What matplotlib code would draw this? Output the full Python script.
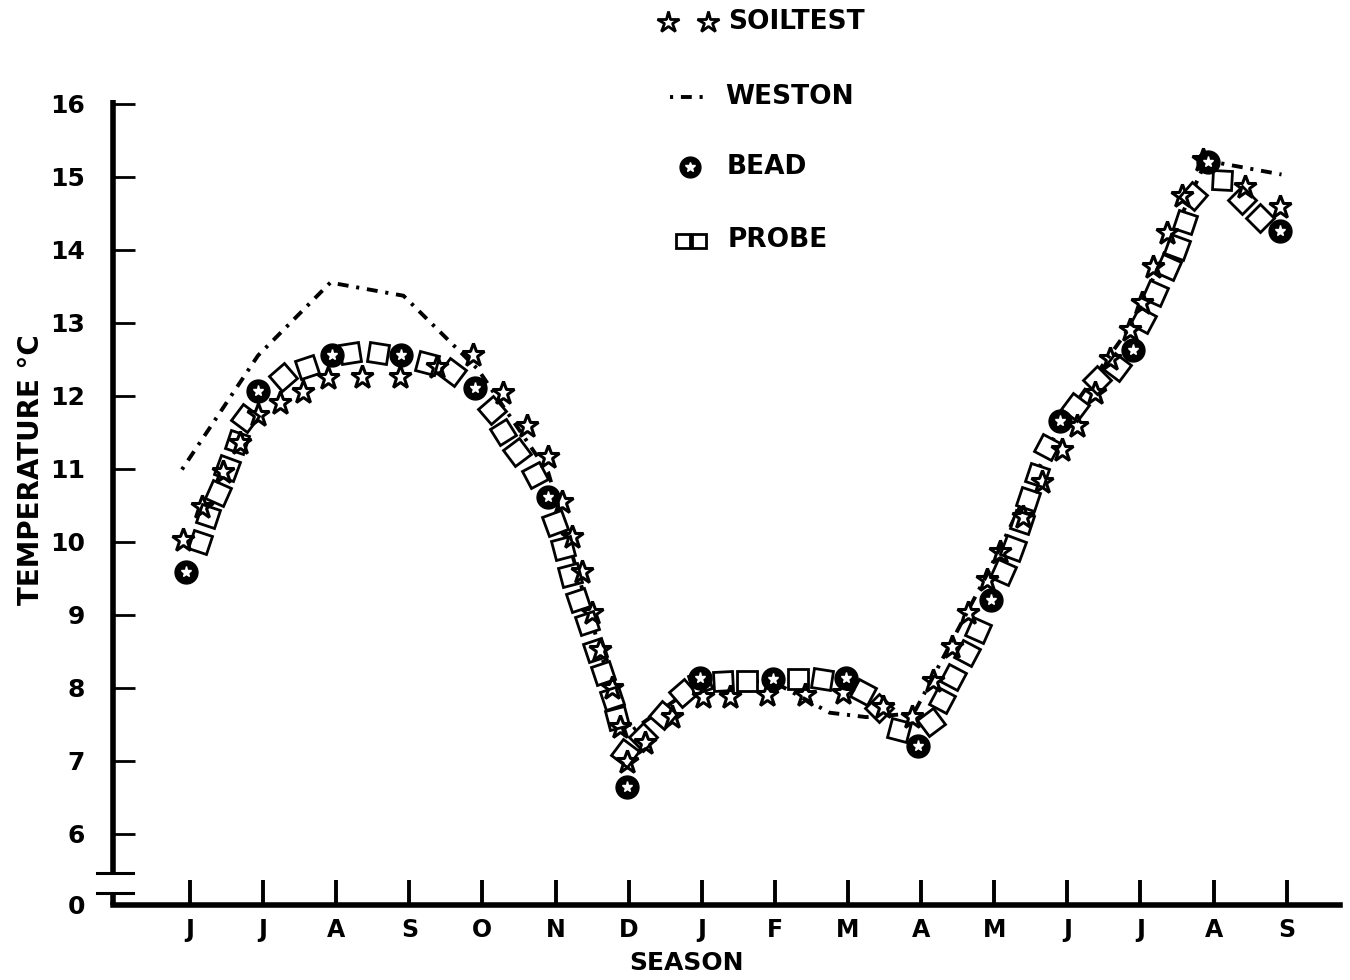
import numpy as np
import matplotlib
matplotlib.use('Agg')
from matplotlib import pyplot as plt
from matplotlib.lines import Line2D
from matplotlib.markers import MarkerStyle
from matplotlib.transforms import Affine2D, blended_transform_factory

# month axis: 0 = first J (June) ... 15 = last S
MONTHS = ['J', 'J', 'A', 'S', 'O', 'N', 'D', 'J', 'F', 'M', 'A', 'M', 'J', 'J', 'A', 'S']
TEMP_TICKS = [6, 7, 8, 9, 10, 11, 12, 13, 14, 15, 16]

soil_t = [-0.09, 0.16, 0.45, 0.68, 0.93, 1.23, 1.55, 1.89, 2.35, 2.87,
          3.38, 3.87, 4.28, 4.61, 4.90, 5.09, 5.23, 5.36, 5.50, 5.61,
          5.77, 5.88, 5.98, 6.22, 6.59, 7.02, 7.39, 7.89, 8.41, 8.93,
          9.48, 9.88, 10.16, 10.42, 10.64, 10.90, 11.08, 11.40, 11.66, 11.93,
          12.13, 12.38, 12.58, 12.86, 13.02, 13.17, 13.37, 13.57, 13.85, 14.43,
          14.91]
soil_temp = [10.03, 10.48, 10.95, 11.36, 11.74, 11.90, 12.05, 12.25, 12.26, 12.26,
             12.40, 12.56, 12.04, 11.58, 11.16, 10.55, 10.07, 9.58, 9.03, 8.52,
             8.00, 7.47, 6.99, 7.25, 7.60, 7.88, 7.88, 7.90, 7.90, 7.93,
             7.74, 7.60, 8.10, 8.56, 9.03, 9.48, 9.86, 10.34, 10.82, 11.26,
             11.58, 12.04, 12.50, 12.90, 13.27, 13.77, 14.23, 14.73, 15.23, 14.86,
             14.59]

weston_t = [-0.11, 0.93, 1.92, 2.92, 3.94, 4.90, 5.95, 6.95, 7.95, 8.75,
            9.25, 9.90, 10.90, 11.90, 12.90, 13.90, 14.93]
weston_temp = [10.99, 12.55, 13.55, 13.37, 12.36, 10.95, 7.35, 8.05, 8.10, 7.66,
               7.60, 7.65, 9.55, 11.60, 13.00, 15.22, 15.03]

bead_t = [-0.05, 0.93, 1.94, 2.89, 3.90, 4.90, 5.98, 6.98, 7.97, 8.97,
          9.96, 10.96, 11.90, 12.90, 13.92, 14.91]
bead_temp = [9.59, 12.07, 12.56, 12.56, 12.10, 10.62, 6.64, 8.14, 8.12, 8.14,
             7.21, 9.21, 11.65, 12.63, 15.20, 14.25]

probe_t = [0.14, 0.25, 0.38, 0.51, 0.64, 0.75, 1.27, 1.60, 2.19, 2.57,
           3.24, 3.58, 4.13, 4.28, 4.47, 4.72, 4.99, 5.10, 5.20, 5.31,
           5.43, 5.54, 5.65, 5.77, 5.84, 5.95, 6.20, 6.47, 6.74, 6.98,
           7.29, 7.62, 8.32, 8.65, 9.20, 9.43, 9.70, 10.13, 10.29, 10.44,
           10.63, 10.78, 11.12, 11.26, 11.38, 11.46, 11.59, 11.72, 12.10, 12.41,
           12.68, 13.04, 13.20, 13.38, 13.50, 13.61, 13.72, 14.12, 14.39, 14.64]
probe_temp = [10.00, 10.35, 10.67, 11.01, 11.37, 11.70, 12.26, 12.40, 12.59, 12.59,
              12.45, 12.32, 11.81, 11.50, 11.23, 10.92, 10.26, 9.92, 9.55, 9.20,
              8.89, 8.52, 8.20, 7.86, 7.59, 7.11, 7.33, 7.63, 7.93, 8.08,
              8.10, 8.10, 8.12, 8.12, 7.95, 7.73, 7.42, 7.53, 7.84, 8.15,
              8.48, 8.79, 9.59, 9.92, 10.27, 10.58, 10.92, 11.30, 11.85, 12.22,
              12.40, 13.04, 13.41, 13.77, 14.04, 14.38, 14.73, 14.96, 14.68, 14.44]

W, H = 1350, 980
DASHDOT = (0, (0.8, 2.0, 2.8, 2.0))

plt.rcParams['font.family'] = ['DejaVu Sans']
plt.rcParams['font.weight'] = 'bold'


def fx(px):
    return px / W


def fy(py):
    return 1 - py / H


fig = plt.figure(figsize=(W / 100, H / 100), dpi=100)
ax = fig.add_axes([fx(113), fy(905), fx(1340) - fx(113), fy(100) - fy(905)])
y_bottom = 5.027
ax.set_xlim(-1.053, 15.73)
ax.set_ylim(y_bottom, 16.05)

for s in ['top', 'right', 'left']:
    ax.spines[s].set_visible(False)
ax.spines['bottom'].set_linewidth(4)

# broken y axis drawn by hand
yt = blended_transform_factory(ax.transAxes, ax.transData)
brk_hi, brk_lo = 5.47, 5.19
ax.plot([0, 0], [brk_hi, 16.05], transform=yt, color='k', lw=4,
        clip_on=False, solid_capstyle='butt')
ax.plot([0, 0], [y_bottom, brk_lo], transform=yt, color='k', lw=4,
        clip_on=False, solid_capstyle='butt')
for yb in (brk_hi, brk_lo):
    ax.plot([-0.013, 0.016], [yb, yb], transform=yt, color='k', lw=2.2,
            clip_on=False)

ax.set_yticks([y_bottom] + TEMP_TICKS)
ax.set_yticklabels(['0'] + [str(v) for v in TEMP_TICKS])
ax.tick_params(axis='y', direction='in', length=16, width=2, pad=20,
               labelsize=18)
ax.yaxis.get_major_ticks()[0].tick1line.set_visible(False)

ax.set_xticks(range(len(MONTHS)))
ax.set_xticklabels(MONTHS)
ax.tick_params(axis='x', direction='in', length=18, width=2.8, pad=9,
               labelsize=17)

# Weston
ax.plot(weston_t, weston_temp, color='k', lw=2.8, ls=DASHDOT, zorder=2)

# Probe: open squares lying along the curve
pts = ax.transData.transform(np.column_stack([probe_t, probe_temp]))
ang = np.degrees(np.arctan2(np.gradient(pts[:, 1]), np.gradient(pts[:, 0])))
for x, y, a in zip(probe_t, probe_temp, ang):
    mk = MarkerStyle('s', transform=Affine2D().rotate_deg(a))
    ax.plot([x], [y], ls='none', marker=mk, ms=14, mfc='white', mec='k',
            mew=2, zorder=3)

# Soiltest
ax.plot(soil_t, soil_temp, ls='none', marker='*', ms=17, mfc='none', mec='k',
        mew=2.2, zorder=4)

# Bead
ax.plot(bead_t, bead_temp, ls='none', marker='o', ms=16.5, mfc='k', mec='k',
        zorder=5)
ax.plot(bead_t, bead_temp, ls='none', marker='*', ms=8, mfc='white',
        mec='white', zorder=6)

# legend, drawn by hand at the top
tf = fig.transFigure
fig.add_artist(Line2D([fx(668), fx(708)], [fy(22), fy(22)], transform=tf, ls='none',
                      marker='*', ms=16, mfc='none', mec='k', mew=2))
fig.add_artist(Line2D([fx(670), fx(706)], [fy(97), fy(97)], transform=tf,
                      color='k', lw=2.8, ls=DASHDOT))
fig.add_artist(Line2D([fx(690)], [fy(167)], transform=tf, ls='none', marker='o',
                      ms=15, mfc='k', mec='k'))
fig.add_artist(Line2D([fx(690)], [fy(167)], transform=tf, ls='none', marker='*',
                      ms=7.5, mfc='white', mec='white'))
fig.add_artist(Line2D([fx(683), fx(699)], [fy(241), fy(241)], transform=tf,
                      ls='none', marker='s', ms=9.5, mfc='none', mec='k', mew=2))
for label, ly, lx in [('SOILTEST', 22, 728), ('WESTON', 97, 725),
                      ('BEAD', 167, 727), ('PROBE', 240, 728)]:
    fig.text(fx(lx), fy(ly), label, ha='left', va='center', fontsize=19,
             fontweight='bold')

fig.text(fx(31), fy(470), 'TEMPERATURE °C', rotation=90, ha='center',
         va='center', fontsize=20, fontweight='bold')
fig.text(fx(687), fy(963), 'SEASON', ha='center', va='center', fontsize=18,
         fontweight='bold')

fig.savefig('out.png', dpi=100)
